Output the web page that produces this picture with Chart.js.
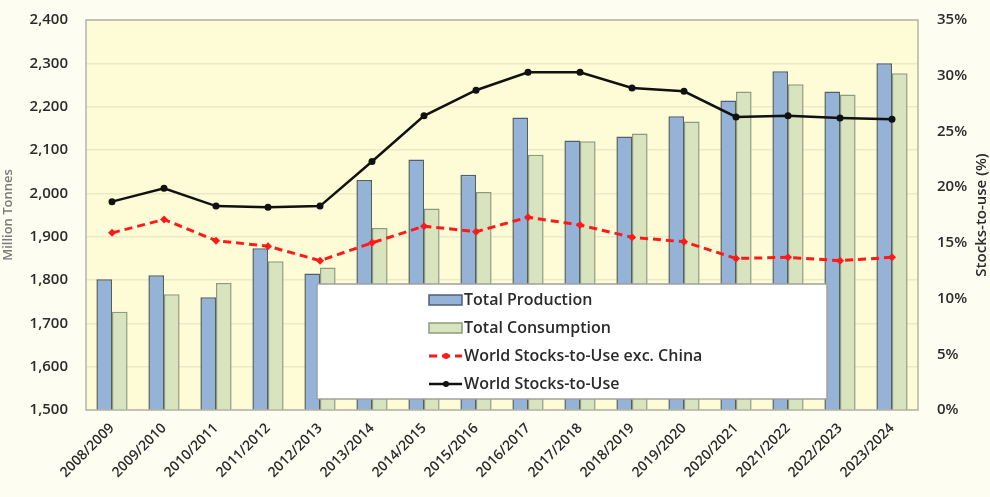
<!DOCTYPE html>
<html>
<head>
<meta charset="utf-8">
<script src="https://cdn.jsdelivr.net/npm/chart.js@4.4.1/dist/chart.umd.min.js"></script>
<style>
  html, body { margin: 0; padding: 0; background: #fdfdf2; }
  #wrap { width: 990px; height: 497px; position: relative; }
</style>
</head>
<body>
<div id="wrap"><canvas id="chart"></canvas></div>
<script>
'use strict';

// marketing years
const seasons = ['2008/2009', '2009/2010', '2010/2011', '2011/2012', '2012/2013', '2013/2014',
  '2014/2015', '2015/2016', '2016/2017', '2017/2018', '2018/2019', '2019/2020',
  '2020/2021', '2021/2022', '2022/2023', '2023/2024'];

// million tonnes
const production = [1802, 1811, 1760, 1873, 1815, 2031, 2078, 2043, 2175, 2122, 2131, 2178, 2214, 2282, 2235, 2300];
const consumption = [1727, 1767, 1793, 1843, 1829, 1920, 1965, 2003, 2089, 2120, 2138, 2166, 2235, 2252, 2228, 2277];

// stocks-to-use, percent
const stocksToUseExChina = [15.9, 17.1, 15.2, 14.7, 13.4, 15.0, 16.5, 16.0, 17.3, 16.6, 15.5, 15.1, 13.6, 13.7, 13.4, 13.7];
const stocksToUse = [18.7, 19.9, 18.3, 18.2, 18.3, 22.3, 26.4, 28.7, 30.3, 30.3, 28.9, 28.6, 26.3, 26.4, 26.2, 26.1];

const FONT = '"Open Sans", "Noto Sans", sans-serif';
const TEXT = '#2b2b2b';

// pale yellow plot background with a grey frame
const plotBg = {
  id: 'plotBg',
  beforeDraw(chart) {
    const { ctx, chartArea: a } = chart;
    ctx.save();
    ctx.fillStyle = '#fefcd6';
    ctx.fillRect(a.left, a.top, a.right - a.left, a.bottom - a.top);
    ctx.restore();
  },
  afterDatasetsDraw(chart) {
    const { ctx, chartArea: a } = chart;
    ctx.save();
    ctx.strokeStyle = '#b4b4a8';
    ctx.lineWidth = 1.5;
    ctx.strokeRect(a.left, a.top, a.right - a.left, a.bottom - a.top);
    ctx.restore();
  }
};

// right axis title, reading bottom to top
const rightTitle = {
  id: 'rightTitle',
  afterDraw(chart) {
    const { ctx, chartArea: a } = chart;
    ctx.save();
    ctx.translate(chart.width - 8, (a.top + a.bottom) / 2);
    ctx.rotate(-Math.PI / 2);
    ctx.fillStyle = TEXT;
    ctx.font = '600 15px ' + FONT;
    ctx.textAlign = 'center';
    ctx.textBaseline = 'middle';
    ctx.fillText('Stocks-to-use (%)', 0, 0);
    ctx.restore();
  }
};

// boxed legend sitting over the lower middle of the plot
const boxLegend = {
  id: 'boxLegend',
  afterDraw(chart) {
    const { ctx, chartArea: a } = chart;
    const x = a.left + 231, y = 284, w = 510, h = 115;
    ctx.save();
    ctx.fillStyle = '#ffffff';
    ctx.fillRect(x, y, w, h);
    ctx.strokeStyle = '#a0a0a0';
    ctx.lineWidth = 1.5;
    ctx.strokeRect(x, y, w, h);

    const sx = x + 112, tx = x + 150;
    const rows = [y + 16, y + 44, y + 72, y + 100];
    chart.data.datasets.forEach((ds, i) => {
      const cy = rows[i];
      if (ds.type === 'bar') {
        ctx.fillStyle = ds.backgroundColor;
        ctx.strokeStyle = ds.borderColor;
        ctx.lineWidth = 1.5;
        ctx.fillRect(sx, cy - 5, 33, 10);
        ctx.strokeRect(sx, cy - 5, 33, 10);
      } else {
        ctx.strokeStyle = ds.borderColor;
        ctx.lineWidth = ds.borderWidth;
        ctx.setLineDash(ds.borderDash || []);
        ctx.beginPath();
        ctx.moveTo(sx, cy);
        ctx.lineTo(sx + 33, cy);
        ctx.stroke();
        ctx.setLineDash([]);
        ctx.fillStyle = ds.borderColor;
        ctx.beginPath();
        ctx.arc(sx + 17, cy, 3, 0, Math.PI * 2);
        ctx.fill();
      }
      ctx.fillStyle = TEXT;
      ctx.font = '600 16px ' + FONT;
      ctx.textBaseline = 'middle';
      ctx.fillText(ds.label, tx - 3, cy);
    });
    ctx.restore();
  }
};

new Chart(document.getElementById('chart'), {
  data: {
    labels: seasons,
    datasets: [
      {
        type: 'bar',
        label: 'Total Production',
        data: production,
        yAxisID: 'y',
        backgroundColor: '#95b3d7',
        borderColor: '#4f5f75',
        borderWidth: 1.5,
        categoryPercentage: 0.6,
        barPercentage: 1.0,
        order: 2
      },
      {
        type: 'bar',
        label: 'Total Consumption',
        data: consumption,
        yAxisID: 'y',
        backgroundColor: '#d7e4bd',
        borderColor: '#8e9a80',
        borderWidth: 1.5,
        categoryPercentage: 0.6,
        barPercentage: 1.0,
        order: 2
      },
      {
        type: 'line',
        label: 'World Stocks-to-Use exc. China',
        data: stocksToUseExChina,
        yAxisID: 'y1',
        borderColor: '#ff1a1a',
        backgroundColor: '#ff1a1a',
        borderWidth: 3,
        borderDash: [8, 5],
        pointStyle: 'rectRot',
        pointRadius: 4,
        pointBorderWidth: 0,
        tension: 0,
        order: 1
      },
      {
        type: 'line',
        label: 'World Stocks-to-Use',
        data: stocksToUse,
        yAxisID: 'y1',
        borderColor: '#111111',
        backgroundColor: '#111111',
        borderWidth: 2.5,
        pointRadius: 3.5,
        pointBorderWidth: 0,
        tension: 0,
        order: 0
      }
    ]
  },
  options: {
    responsive: true,
    maintainAspectRatio: false,
    animation: false,
    layout: { padding: { top: 20, bottom: 0, left: 0, right: 0 } },
    plugins: {
      legend: { display: false },
      tooltip: { enabled: false }
    },
    scales: {
      x: {
        grid: { display: false },
        border: { display: false },
        ticks: {
          color: TEXT,
          font: { family: FONT, size: 14, weight: '600' },
          minRotation: 45,
          maxRotation: 45,
          autoSkip: false,
          padding: 2
        },
        afterFit(scale) { scale.height = 87; }
      },
      y: {
        position: 'left',
        min: 1500,
        max: 2400,
        grid: { color: '#ece9c6', lineWidth: 1.5, drawTicks: false },
        border: { display: false },
        ticks: {
          stepSize: 100,
          color: TEXT,
          font: { family: FONT, size: 15, weight: '600' },
          padding: 18,
          callback: v => v.toLocaleString('en-US')
        },
        title: {
          display: true,
          text: 'Million Tonnes',
          color: '#7a7a7a',
          font: { family: FONT, size: 13, weight: '600' },
          padding: { top: 0, bottom: 2 }
        },
        afterFit(scale) { scale.width = 86; scale.paddingTop = 0; scale.paddingBottom = 0; }
      },
      y1: {
        position: 'right',
        min: 0,
        max: 35,
        grid: { display: false },
        border: { display: false },
        ticks: {
          stepSize: 5,
          color: TEXT,
          font: { family: FONT, size: 15, weight: '600' },
          padding: 11,
          callback: v => v + '%'
        },
        afterFit(scale) { scale.width = 72; scale.paddingTop = 0; scale.paddingBottom = 0; }
      }
    }
  },
  plugins: [plotBg, rightTitle, boxLegend]
});
</script>
</body>
</html>
